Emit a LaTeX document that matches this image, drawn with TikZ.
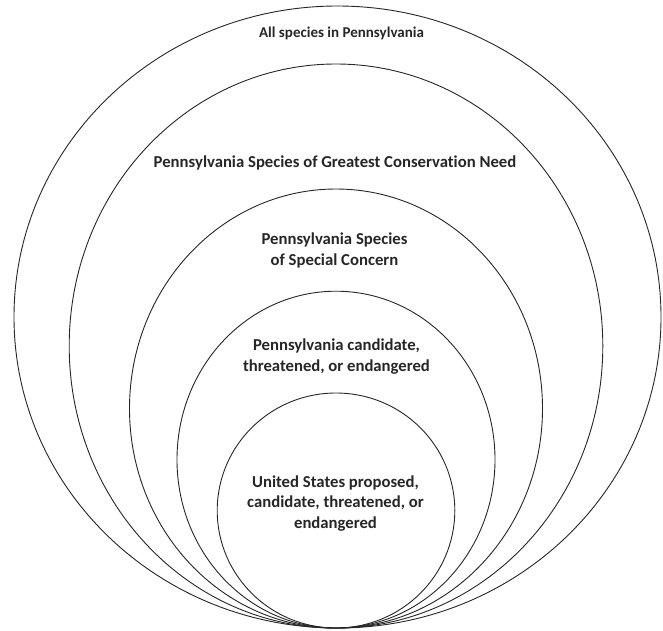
\documentclass[tikz,border=0pt]{standalone}
\usepackage{fontspec}
\setmainfont{Carlito}[Ligatures=NoCommon]
\usetikzlibrary{calc}
\definecolor{ink}{HTML}{262626}
\tikzset{
  ring/.style={draw=ink, line width=0.9pt},
  lab/.style={text=ink, font=\fontsize{16.7}{20.5}\selectfont\bfseries, align=center, inner sep=0pt},
  labs/.style={lab, font=\fontsize{15}{20.5}\selectfont\bfseries},
}

\begin{document}
\begin{tikzpicture}[x=1pt,y=-1pt]
  \useasboundingbox (0,0) rectangle (663,630);
  \coordinate (B) at (336,628);

  % nested rings, all touching at the bottom
  \draw[ring] ($(B)+(1.5,-311)$) ellipse [x radius=323.5, y radius=311];
  \draw[ring] ($(B)+(0,-282)$) ellipse [x radius=266.8, y radius=282];
  \draw[ring] ($(B)+(0,-219.5)$) ellipse [x radius=206.5, y radius=219.5];
  \draw[ring] ($(B)+(0,-168.4)$) ellipse [x radius=159, y radius=168.4];
  \draw[ring] ($(B)+(0,-117.5)$) ellipse [x radius=118.8, y radius=117.5];

  \node[labs] (all) at (341.5,33)  {All species in Pennsylvania};
  \node[lab] (sgcn) at (335,163)   {Pennsylvania Species of Greatest Conservation Need};
  \node[lab] (ssc)  at (334.5,250.5) {Pennsylvania Species\\of Special Concern};
  \node[lab] (pa)   at (336.5,356.5) {Pennsylvania candidate,\\threatened, or endangered};
  \node[lab] (us)   at (335.5,503.5) {United States proposed,\\candidate, threatened, or\\endangered};
\end{tikzpicture}
\end{document}
